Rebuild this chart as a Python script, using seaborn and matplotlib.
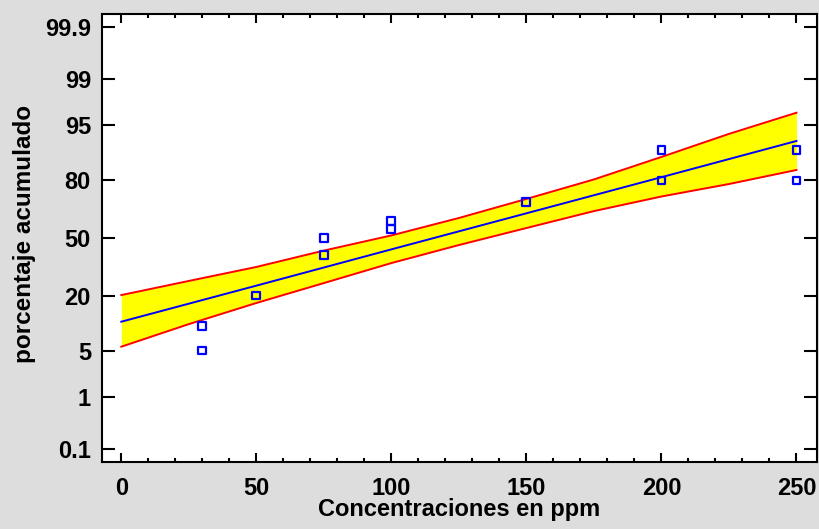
import numpy as np
import pandas as pd
import matplotlib
matplotlib.use("Agg")
import matplotlib.pyplot as plt
from matplotlib.ticker import MultipleLocator, FixedLocator, FixedFormatter
import seaborn as sns
from statistics import NormalDist

# ---------------- data ----------------
obs_x = [30, 30, 50, 75, 75, 100, 100, 150, 200, 200, 250, 250]
obs_pct = [5, 10, 20, 40, 50, 55, 60, 70, 80, 90, 80, 90]

fit_x = [0, 50, 100, 150, 200, 250]
fit_pct = [11.05, 24.3, 43.4, 64.1, 81.3, 92.2]

band_x = [0, 25, 50, 75, 100, 125, 150, 175, 200, 225, 250]
band_upper = [20.2, 26.5, 33.6, 42.7, 51.5, 61.5, 71.6, 80.4, 88.2, 93.6, 96.65]
band_lower = [5.6, 10.4, 17.1, 25.5, 35.7, 45.9, 55.8, 65.3, 72.8, 78.5, 84.0]

ytick_vals = [0.1, 1, 5, 20, 50, 80, 95, 99, 99.9]
ytick_labels = ["0.1", "1", "5", "20", "50", "80", "95", "99", "99.9"]
xtick_vals = [0, 50, 100, 150, 200, 250]

# ---------------- probability scale ----------------
ND = NormalDist()
_ppf = np.vectorize(ND.inv_cdf, otypes=[float])
_cdf = np.vectorize(ND.cdf, otypes=[float])


def fwd(p):
    p = np.clip(np.asarray(p, dtype=float) / 100.0, 1e-12, 1 - 1e-12)
    return _ppf(p)


def inv(z):
    return _cdf(np.asarray(z, dtype=float)) * 100.0


# ---------------- figure ----------------
plt.rcParams["font.family"] = ["Liberation Sans", "DejaVu Sans"]
plt.rcParams["font.weight"] = "bold"

fig = plt.figure(figsize=(8.2, 5.29), dpi=100, facecolor="#dddddd")
ax = fig.add_axes([102 / 820, 1 - 462 / 529, (817 - 102) / 820, (462 - 14) / 529])
ax.set_facecolor("white")

band_df = pd.DataFrame({"x": band_x, "upper": band_upper, "lower": band_lower})
fit_df = pd.DataFrame({"x": fit_x, "pct": fit_pct})
obs_df = pd.DataFrame({"x": obs_x, "pct": obs_pct})

ax.fill_between(band_df["x"], band_df["lower"], band_df["upper"],
                color="#ffff00", linewidth=0, zorder=1)
sns.lineplot(data=band_df, x="x", y="upper", ax=ax, color="#ff0000",
             linewidth=1.4, zorder=2)
sns.lineplot(data=band_df, x="x", y="lower", ax=ax, color="#ff0000",
             linewidth=1.4, zorder=2)
sns.lineplot(data=fit_df, x="x", y="pct", ax=ax, color="#0000ff",
             linewidth=1.4, zorder=3)
sns.scatterplot(data=obs_df, x="x", y="pct", ax=ax, marker="s", s=32,
                facecolor="none", edgecolor="#0000ff", linewidth=1.6, zorder=4)

ax.set_yscale("function", functions=(fwd, inv))
zlim = 3.275
ax.set_ylim(inv(-zlim), inv(zlim))
ax.set_xlim(-7.14, 257.6)

ax.yaxis.set_major_locator(FixedLocator(ytick_vals))
ax.yaxis.set_major_formatter(FixedFormatter(ytick_labels))
ax.yaxis.set_minor_locator(FixedLocator([]))
ax.xaxis.set_major_locator(FixedLocator(xtick_vals))
ax.xaxis.set_minor_locator(MultipleLocator(10))

for s in ax.spines.values():
    s.set_linewidth(1.5)
    s.set_color("black")

ax.tick_params(axis="both", which="both", direction="in", top=True, right=True,
               width=1.5, colors="black", labelsize=17)
ax.tick_params(axis="y", which="major", length=9.5, pad=8)
ax.tick_params(axis="x", which="major", length=6.5, pad=11)
ax.tick_params(axis="x", which="minor", length=3)
for lab in ax.get_xticklabels() + ax.get_yticklabels():
    lab.set_fontweight("bold")

ax.set_xlabel("Concentraciones en ppm", fontsize=17, fontweight="bold")
ax.set_ylabel("porcentaje acumulado", fontsize=17.5, fontweight="bold")
ax.xaxis.set_label_coords(0.5, -0.081)
ax.yaxis.set_label_coords(-0.092, 0.51)

fig.savefig("out.png", dpi=100, facecolor=fig.get_facecolor())
